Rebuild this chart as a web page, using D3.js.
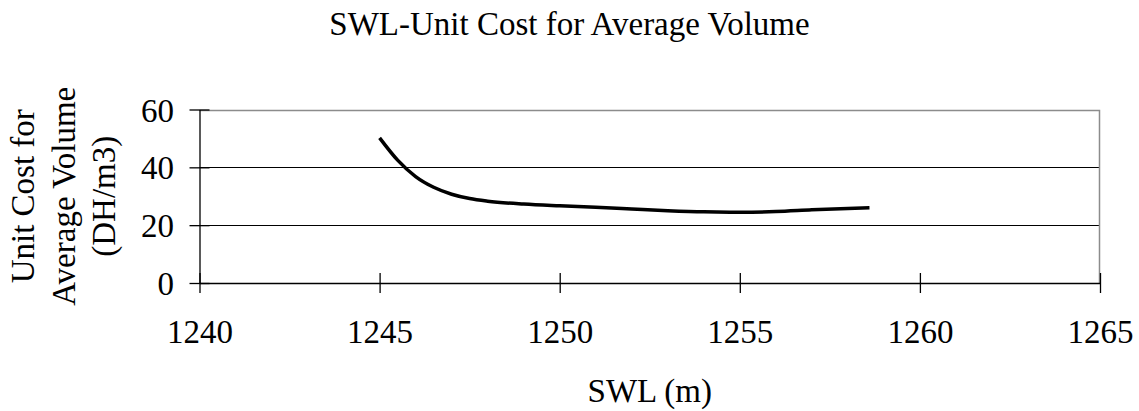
<!DOCTYPE html>
<html>
<head>
<meta charset="utf-8">
<script src="https://cdn.jsdelivr.net/npm/d3@7"></script>
<style>
  html, body { margin: 0; padding: 0; background: #fff; }
  svg { display: block; }
  text { font-family: "Liberation Serif", "Times New Roman", serif; fill: #000; }
</style>
</head>
<body>
<svg id="chart" width="1139" height="411"></svg>
<script>
// ---- data ----
const swl = [1245, 1245.5, 1246, 1246.5, 1247, 1247.5, 1248, 1249, 1250, 1251, 1252, 1253, 1254, 1255, 1256, 1257, 1258, 1258.6];
const unitCost = [50.2, 42.5, 36.8, 33.1, 30.7, 29.2, 28.3, 27.3, 26.7, 26.2, 25.6, 25.0, 24.6, 24.5, 24.7, 25.3, 25.8, 26.0];
const xTicks = [1240, 1245, 1250, 1255, 1260, 1265];
const yTicks = [0, 20, 40, 60];
const title = "SWL-Unit Cost for Average Volume";
const xTitle = "SWL (m)";
const yTitleLines = ["Unit Cost for", "Average Volume", "(DH/m3)"];

// ---- layout ----
const svg = d3.select("#chart");
const pLeft = 199.5, pRight = 1100, pTop = 109.5, pBottom = 283;
const x = d3.scaleLinear().domain([1240, 1265]).range([pLeft, pRight]);
const y = d3.scaleLinear().domain([0, 60]).range([pBottom, pTop]);
const fs = 33;

// title
svg.append("text")
  .attr("x", 569.5).attr("y", 35)
  .attr("text-anchor", "middle")
  .style("font-size", fs + "px")
  .text(title);

// gridlines
svg.append("g")
  .selectAll("line")
  .data(yTicks.filter(d => d !== 0 && d !== 60))
  .join("line")
  .attr("x1", pLeft).attr("x2", pRight)
  .attr("y1", d => Math.round(y(d)) + 0.5).attr("y2", d => Math.round(y(d)) + 0.5)
  .attr("stroke", "#000").attr("stroke-width", 1);

// plot area border (top & right), gray
svg.append("path")
  .attr("d", `M${pLeft},${Math.round(pTop) + 0.5}H${Math.round(pRight) - 0.5}V${pBottom}`)
  .attr("fill", "none").attr("stroke", "#8c8c8c").attr("stroke-width", 1.5);

// x axis
const xAxis = svg.append("g")
  .attr("transform", `translate(0,${pBottom})`)
  .call(d3.axisBottom(x).tickValues(xTicks).tickFormat(d3.format("d")).tickSizeOuter(0));
xAxis.select(".domain").attr("stroke", "#000").attr("stroke-width", 1.3);
xAxis.selectAll(".tick line").attr("y1", -10).attr("y2", 10).attr("stroke", "#000").attr("stroke-width", 1.3);
xAxis.selectAll(".tick text")
  .attr("y", 60).attr("dy", 0)
  .style("font-size", fs + "px")
  .style("font-family", "'Liberation Serif', 'Times New Roman', serif")
  .attr("fill", "#000");

// y axis
const yAxis = svg.append("g")
  .attr("transform", `translate(${pLeft},0)`)
  .call(d3.axisLeft(y).tickValues(yTicks).tickFormat(d3.format("d")).tickSizeOuter(0));
yAxis.select(".domain").attr("stroke", "#000").attr("stroke-width", 1.3);
yAxis.selectAll(".tick line").attr("x1", -10).attr("x2", 10).attr("stroke", "#000").attr("stroke-width", 1.3);
yAxis.selectAll(".tick text")
  .attr("x", -25.5).attr("dy", "0.35em")
  .style("font-size", fs + "px")
  .style("font-family", "'Liberation Serif', 'Times New Roman', serif")
  .attr("fill", "#000");

// x axis title
svg.append("text")
  .attr("x", (pLeft + pRight) / 2).attr("y", 402)
  .attr("text-anchor", "middle")
  .style("font-size", fs + "px")
  .text(xTitle);

// y axis title (rotated, 3 lines)
const yCenter = (pTop + pBottom) / 2;
const yT = svg.append("text")
  .attr("transform", `translate(34,${yCenter}) rotate(-90)`)
  .attr("text-anchor", "middle")
  .style("font-size", fs + "px");
yTitleLines.forEach((t, i) => {
  yT.append("tspan").attr("x", 0).attr("y", i * 40.5).text(t);
});

// curve
const pts = swl.map((v, i) => [v, unitCost[i]]);
svg.append("path")
  .datum(pts)
  .attr("fill", "none")
  .attr("stroke", "#000")
  .attr("stroke-width", 3.5)
  .attr("stroke-linejoin", "round")
  .attr("d", d3.line().x(d => x(d[0])).y(d => y(d[1])).curve(d3.curveMonotoneX));
</script>
</body>
</html>
